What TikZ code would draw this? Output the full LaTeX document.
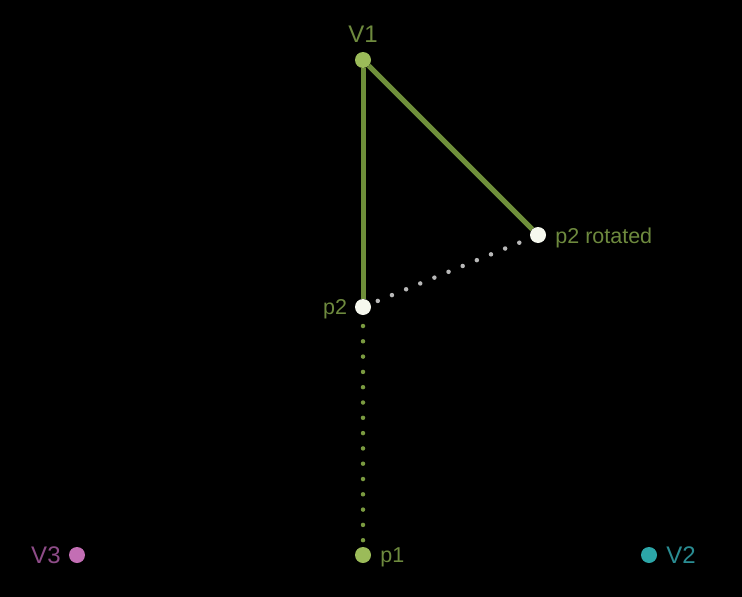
\documentclass[tikz,border=0pt]{standalone}
\usepackage{fontspec}
\setmainfont{Liberation Sans}
\usetikzlibrary{positioning}
\definecolor{ptgreen}{HTML}{9BBB59}
\definecolor{linegreen}{HTML}{6F8F3A}
\definecolor{dotgreen}{HTML}{7A9A40}
\definecolor{textgreen}{HTML}{6E8A3E}
\definecolor{ptpink}{HTML}{C36EB4}
\definecolor{textpink}{HTML}{8E4C88}
\definecolor{ptteal}{HTML}{2CA6A8}
\definecolor{textteal}{HTML}{2A8C92}
\definecolor{ptwhite}{HTML}{F6F8EE}
\definecolor{dotgrey}{HTML}{B8B8B8}
\begin{document}
\begin{tikzpicture}[x=1pt, y=-1pt,
    pt/.style={circle, inner sep=0pt, minimum size=16pt},
    bigtext/.style={font=\fontsize{24}{24}\selectfont, inner sep=0pt},
    smalltext/.style={font=\fontsize{21.5}{21.5}\selectfont, inner sep=0pt, yshift=-2.5pt},
    edge/.style={linegreen, line width=5pt},
    dots/.style={line width=4.5pt, line cap=round, dash pattern=on 0pt off 15.3pt}]
            \fill[black] (0,0) rectangle (742,597);
            \useasboundingbox (0,0) rectangle (742,597);

            \node at (363,60) [pt, fill=ptgreen] (v1) {};
            \node at (363,307) [pt, fill=ptwhite] (p2) {};
            \node at (538,235) [pt, fill=ptwhite] (p2r) {};
            \node at (363,555) [pt, fill=ptgreen] (p1) {};
            \node at (77,555) [pt, fill=ptpink] (v3) {};
            \node at (649,555) [pt, fill=ptteal] (v2) {};

            \node [above=9.5pt of v1.north, anchor=south, bigtext, textgreen] (v1l) {V1};
            \node [left=7.5pt of p2.west, anchor=east, smalltext, textgreen] (p2l) {p2};
            \node [right=9pt of p2r.east, anchor=west, smalltext, textgreen] (p2rl) {p2 rotated};
            \node [right=9pt of p1.east, anchor=west, smalltext, textgreen] (p1l) {p1};
            \node [left=8pt of v3.west, anchor=east, bigtext, textpink] (v3l) {V3};
            \node [right=9pt of v2.east, anchor=west, bigtext, textteal] (v2l) {V2};

            \draw [edge] (v1) -- (p2);
            \draw [edge] (v1) -- (p2r);
            \draw [dots, dotgrey, dash phase=7.5pt] (p2) -- (p2r);
            \draw [dots, dotgreen, dash phase=4.5pt] (p2) -- (p1);
        \end{tikzpicture}
\end{document}
